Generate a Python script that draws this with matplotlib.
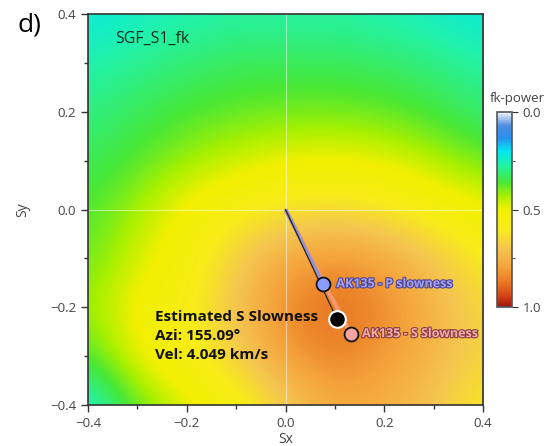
import numpy as np
import matplotlib
matplotlib.use("Agg")
import matplotlib.pyplot as plt
import matplotlib.patheffects as pe
from matplotlib.colors import LinearSegmentedColormap
from matplotlib.ticker import MultipleLocator

plt.rcParams['font.family'] = ['Open Sans', 'DejaVu Sans']

# slowness grid nodes (s/km)
sx_nodes = [-0.4, -0.3, -0.2, -0.1, 0.0, 0.1, 0.2, 0.3, 0.4]
sy_nodes = [0.4, 0.3, 0.2, 0.1, 0.0, -0.1, -0.2, -0.3, -0.4]

# normalised fk power, one row per sy node (top to bottom)
fk_power = [
    [0.22, 0.24, 0.26, 0.27, 0.27, 0.27, 0.26, 0.24, 0.22],
    [0.26, 0.29, 0.31, 0.33, 0.33, 0.33, 0.32, 0.30, 0.27],
    [0.30, 0.33, 0.36, 0.38, 0.39, 0.39, 0.38, 0.35, 0.31],
    [0.33, 0.37, 0.42, 0.46, 0.49, 0.50, 0.48, 0.44, 0.38],
    [0.36, 0.43, 0.52, 0.58, 0.63, 0.64, 0.62, 0.56, 0.50],
    [0.38, 0.47, 0.55, 0.68, 0.78, 0.83, 0.78, 0.70, 0.60],
    [0.42, 0.52, 0.58, 0.71, 0.85, 0.89, 0.85, 0.75, 0.65],
    [0.36, 0.50, 0.58, 0.68, 0.81, 0.86, 0.81, 0.74, 0.66],
    [0.22, 0.38, 0.47, 0.55, 0.68, 0.78, 0.76, 0.70, 0.60],
]

# estimated S slowness
est_azi = 155.09   # deg from north
est_vel = 4.049    # km/s

# AK135 reference slowness vectors (sx, sy)
p_slow = [0.076, -0.152]
s_slow = [0.132, -0.254]

est_slow = 1.0 / est_vel
est_sx = est_slow * np.sin(np.radians(est_azi))
est_sy = est_slow * np.cos(np.radians(est_azi))

cmap = LinearSegmentedColormap.from_list('fk', [
    (0.00, '#eef3fb'),
    (0.07, '#4d8be0'),
    (0.13, '#2a8ff0'),
    (0.20, '#00e8f0'),
    (0.27, '#22f2a8'),
    (0.36, '#48e836'),
    (0.43, '#a8f000'),
    (0.50, '#f2f000'),
    (0.60, '#f8ec1a'),
    (0.70, '#f4c650'),
    (0.80, '#f4a23a'),
    (0.88, '#e87522'),
    (0.95, '#d03d14'),
    (1.00, '#a01810'),
])

fig = plt.figure(figsize=(5.49, 4.46), dpi=100)
ax = fig.add_axes([0.1603, 0.0919, 0.7195, 0.8767])

step = 0.1
img = ax.imshow(np.array(fk_power), cmap=cmap, vmin=0, vmax=1,
                extent=[sx_nodes[0] - step / 2, sx_nodes[-1] + step / 2,
                        sy_nodes[-1] - step / 2, sy_nodes[0] + step / 2],
                interpolation='bicubic', aspect='auto', origin='upper')
ax.set_xlim(-0.4, 0.4)
ax.set_ylim(-0.4, 0.4)

ax.axvline(0, color='white', lw=0.8, alpha=0.5)
ax.axhline(0, color='white', lw=0.8, alpha=0.5)

# slowness vectors
ax.plot([0, s_slow[0]], [0, s_slow[1]], color='#f59a70', lw=2.8,
        solid_capstyle='butt', zorder=3)
ax.plot([0, p_slow[0]], [0, p_slow[1]], color='#9b93c4', lw=2.8,
        solid_capstyle='butt', zorder=3)
ax.plot([0, est_sx], [0, est_sy], color='#222222', lw=0.9, zorder=4)

ax.plot(p_slow[0], p_slow[1], 'o', ms=10, mfc='#8c9cf8', mec='#111111',
        mew=1.3, zorder=5)
ax.plot(s_slow[0], s_slow[1], 'o', ms=10, mfc='#f4a3a3', mec='#111111',
        mew=1.3, zorder=5)
ax.plot(est_sx, est_sy, 'o', ms=12, mfc='black', mec='white', mew=1.5,
        zorder=6)

ax.text(p_slow[0] + 0.027, p_slow[1], 'AK135 - P slowness', fontsize=9,
        fontweight='bold', color='#a0a0f2', va='center', zorder=6,
        path_effects=[pe.withStroke(linewidth=1.6, foreground='#54468e')])
ax.text(s_slow[0] + 0.023, s_slow[1], 'AK135 - S Slowness', fontsize=9,
        fontweight='bold', color='#f2aaaa', va='center', zorder=6,
        path_effects=[pe.withStroke(linewidth=1.6, foreground='#8a4040')])

ax.text(-0.265, est_sy + 0.018,
        'Estimated S Slowness\nAzi: %.2f\u00b0\nVel: %.3f km/s' % (est_azi, est_vel),
        fontsize=11, fontweight='bold', color='#111111', va='top',
        ha='left', linespacing=1.45, zorder=6)

ax.text(0.068, 0.936, 'SGF_S1_fk', transform=ax.transAxes, fontsize=11.5,
        color='#1a2a22', va='center')

ax.xaxis.set_major_locator(MultipleLocator(0.2))
ax.xaxis.set_minor_locator(MultipleLocator(0.1))
ax.yaxis.set_major_locator(MultipleLocator(0.2))
ax.yaxis.set_minor_locator(MultipleLocator(0.1))
ax.tick_params(which='both', direction='out', color='#333333', labelsize=9.5,
               labelcolor='#444444')
ax.tick_params(which='major', length=5, width=1)
ax.tick_params(which='minor', length=3, width=1)
for sp in ax.spines.values():
    sp.set_color('#333333')
    sp.set_linewidth(1.2)

ax.set_xlabel('Sx', fontsize=10, color='#444444')
ax.xaxis.set_label_coords(0.5, -0.068)
ax.set_ylabel('Sy', fontsize=10, color='#444444', labelpad=14)

fig.text(0.031, 0.945, 'd)', fontsize=19, color='black', va='center')

cax = fig.add_axes([0.9053, 0.3117, 0.0273, 0.437])
cb = fig.colorbar(img, cax=cax)
cax.invert_yaxis()
cb.set_ticks([0.0, 0.5, 1.0])
cb.ax.yaxis.set_minor_locator(MultipleLocator(0.25))
cb.ax.tick_params(which='both', direction='out', color='#333333',
                  labelsize=9.5, labelcolor='#444444')
cb.ax.tick_params(which='major', length=4)
cb.ax.tick_params(which='minor', length=2.5)
cb.outline.set_edgecolor('#555555')
cb.outline.set_linewidth(1.2)
fig.text(0.942, 0.78, 'fk-power', fontsize=9.5, color='#444444', ha='center',
         va='center')

fig.savefig('out.png', dpi=100)
